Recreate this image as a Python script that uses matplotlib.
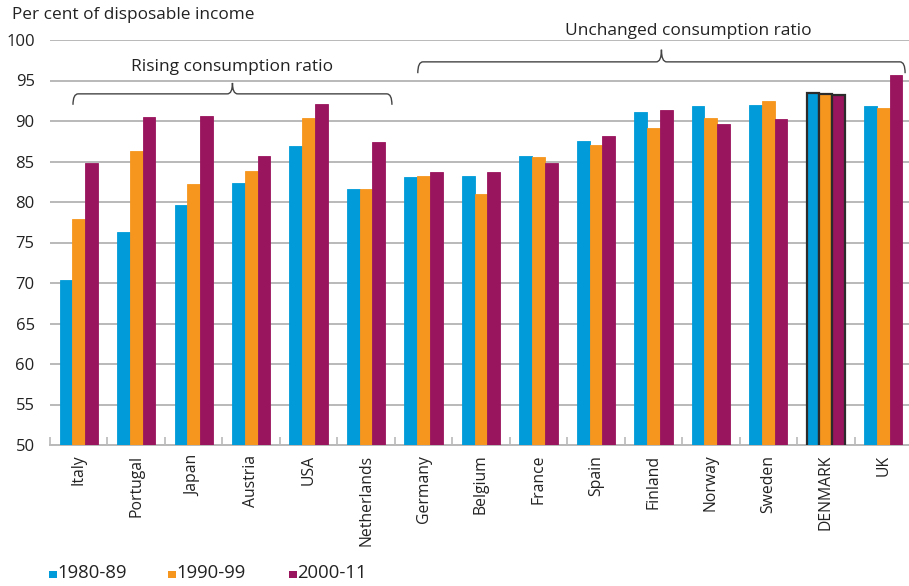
import matplotlib
matplotlib.use("Agg")
import matplotlib.pyplot as plt
from matplotlib.path import Path
from matplotlib.patches import PathPatch, Rectangle
import numpy as np

plt.rcParams['font.family'] = ['Open Sans', 'DejaVu Sans']

countries = ["Italy", "Portugal", "Japan", "Austria", "USA", "Netherlands",
             "Germany", "Belgium", "France", "Spain", "Finland", "Norway",
             "Sweden", "DENMARK", "UK"]
s1980 = [70.4, 76.3, 79.6, 82.4, 86.9, 81.6, 83.1, 83.2, 85.7, 87.5, 91.15, 91.8, 92.0, 93.4, 91.85]
s1990 = [77.9, 86.3, 82.2, 83.8, 90.4, 81.55, 83.2, 81.0, 85.55, 87.0, 89.1, 90.4, 92.5, 93.35, 91.65]
s2000 = [84.85, 90.5, 90.6, 85.7, 92.1, 87.45, 83.7, 83.7, 84.85, 88.1, 91.4, 89.6, 90.3, 93.2, 95.7]
series_labels = ["1980-89", "1990-99", "2000-11"]
colors = ["#009bd8", "#f7961f", "#99155d"]

groups = [("Rising consumption ratio", "Italy", "Netherlands"),
          ("Unchanged consumption ratio", "Germany", "UK")]
highlight = "DENMARK"
text_color = "#222222"
grid_color = "#b9b9b9"

fig = plt.figure(figsize=(9.09, 5.86), dpi=100)
ax = fig.add_axes([50 / 909, 1 - 445 / 586, 862 / 909, 405 / 586])

x = np.arange(len(countries))
w = 0.222
for k, (vals, c, lab) in enumerate(zip([s1980, s1990, s2000], colors, series_labels)):
    bars = ax.bar(x + (k - 1) * w, vals, width=w, color=c, label=lab,
                  zorder=3, linewidth=0.6, edgecolor=c)
    for i, b in enumerate(bars):
        if countries[i] == highlight:
            b.set_edgecolor("#2b2b2b")
            b.set_linewidth(1.6)

ax.set_ylim(50, 100)
ax.set_xlim(-0.5, len(countries) - 0.5)
ax.set_yticks(np.arange(50, 101, 5))
ax.yaxis.grid(True, color=grid_color, linewidth=1.4, zorder=0)
ax.set_axisbelow(True)
for s in ["top", "right", "left"]:
    ax.spines[s].set_visible(False)
ax.spines["bottom"].set_color(grid_color)
ax.spines["bottom"].set_linewidth(1.4)
ax.tick_params(axis="y", length=0, labelsize=12, pad=11, labelcolor=text_color)

# category labels, with short inward ticks at the group boundaries
ax.set_xticks(x)
ax.set_xticklabels(countries, rotation=90, fontsize=11.3, color=text_color)
ax.tick_params(axis="x", which="major", length=0, pad=7)
ax.set_xticks(np.arange(-0.5, len(countries)), minor=True)
ax.tick_params(axis="x", which="minor", direction="in", length=6,
               color=grid_color, width=1.2)


def brace(ax, x0, x1, xc, yh, ytip, ycusp, rx=0.09):
    verts = [(x0, ytip), (x0, yh), (x0 + rx, yh),
             (xc - rx, yh), (xc, yh), (xc, ycusp),
             (xc, yh), (xc + rx, yh),
             (x1 - rx, yh), (x1, yh), (x1, ytip)]
    codes = [Path.MOVETO, Path.CURVE3, Path.CURVE3,
             Path.LINETO, Path.CURVE3, Path.CURVE3,
             Path.CURVE3, Path.CURVE3,
             Path.LINETO, Path.CURVE3, Path.CURVE3]
    ax.add_patch(PathPatch(Path(verts, codes), facecolor="none",
                           edgecolor="#444444", linewidth=1.0, clip_on=False, zorder=4))


idx = {c: i for i, c in enumerate(countries)}
# Rising group brace
name, a, b = groups[0]
x0, x1 = idx[a] - 0.10, idx[b] + 0.45
xc = (x0 + x1) / 2
brace(ax, x0, x1, xc, 93.35, 92.0, 94.7)
ax.text(xc, 96.7, name, ha="center", va="center", fontsize=12.5, color=text_color)
# Unchanged group brace
name, a, b = groups[1]
x0, x1 = idx[a] - 0.10, idx[b] + 0.38
xc = (x0 + x1) / 2
brace(ax, x0, x1, xc, 97.3, 95.9, 98.8)
ax.text(xc + 0.47, 101.05, name, ha="center", va="center", fontsize=12.5,
        color=text_color, clip_on=False)

fig.text(12 / 909, 1 - 15 / 586, "Per cent of disposable income", fontsize=12.4,
         va="center", ha="left", color=text_color)

# legend: small squares followed by the period labels
W, H = 909, 586
for (px, lab, c) in zip([49, 168, 289], series_labels, colors):
    fig.patches.append(Rectangle((px / W, 1 - 578 / H), 7.5 / W, 7.5 / H,
                                 transform=fig.transFigure, facecolor=c,
                                 edgecolor="none"))
    fig.text((px + 8.5) / W, 1 - 573.5 / H, lab, fontsize=13.3, va="center",
             ha="left", color=text_color)

fig.savefig("out.png", dpi=100)
